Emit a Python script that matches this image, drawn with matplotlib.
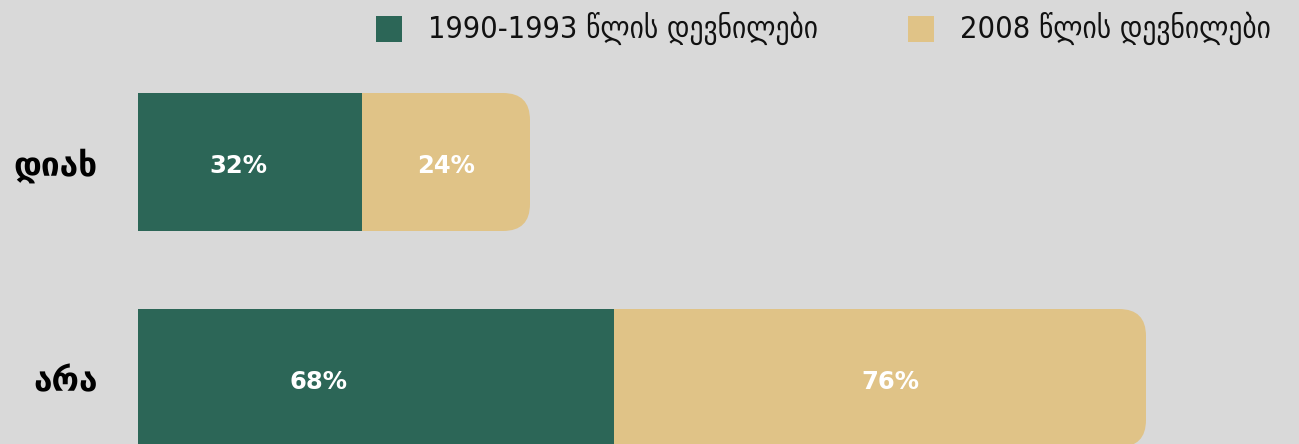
import matplotlib
matplotlib.use("Agg")
import matplotlib.pyplot as plt
from matplotlib.patches import FancyBboxPatch, Rectangle

categories = ["დიახ", "არა"]
series_names = ["1990-1993 წლის დევნილები", "2008 წლის დევნილები"]
values_1990 = [32, 68]
values_2008 = [24, 76]
value_labels_1990 = ["32%", "68%"]
value_labels_2008 = ["24%", "76%"]

GREEN = "#2c6657"
TAN = "#e0c387"
BG = "#d9d9d9"

W, H, DPI = 1299, 444, 100
fig = plt.figure(figsize=(W / DPI, H / DPI), dpi=DPI, facecolor=BG)
plt.rcParams['font.family'] = ['DejaVu Sans']

x0_px = 138
px_per_unit = 7.0
ax = fig.add_axes([x0_px / W, 0, (W - x0_px) / W, 1])
ax.set_facecolor(BG)
xmax = (W - x0_px) / px_per_unit
ax.set_xlim(0, xmax)
row_px = 216.0
top_center_px = 162.0
ymin_data = -top_center_px / row_px
ymax_data = (H - top_center_px) / row_px
ax.set_ylim(ymax_data, ymin_data)
y_px_per_unit = row_px

bar_h = 138 / row_px
radius_px = 27
r_x = radius_px / px_per_unit
aspect = px_per_unit / y_px_per_unit

ypos = list(range(len(categories)))
ax.barh(ypos, values_1990, height=bar_h, color=GREEN, edgecolor="none")
for y, g, t in zip(ypos, values_1990, values_2008):
    ax.barh(y, t - r_x, left=g, height=bar_h, color=TAN, edgecolor="none")
    box = FancyBboxPatch((g, y - bar_h / 2), t, bar_h,
                         boxstyle=f"round,pad=0,rounding_size={r_x}",
                         mutation_aspect=aspect, facecolor=TAN,
                         edgecolor="none")
    ax.add_patch(box)

# label placement along each segment (fraction of segment length), as in the original design
frac_1990 = [0.45, 0.38]
frac_2008 = [0.5, 0.52]
dy = 0.02
for y, g, t, lg, lt, fg, ft in zip(ypos, values_1990, values_2008,
                                   value_labels_1990, value_labels_2008,
                                   frac_1990, frac_2008):
    ax.text(g * fg, y + dy, lg, ha="center", va="center", color="white",
            fontsize=17.5, fontweight="bold")
    ax.text(g + t * ft, y + dy, lt, ha="center", va="center", color="white",
            fontsize=17.5, fontweight="bold")

ax.set_yticks(ypos)
ax.set_yticklabels(categories, fontsize=24, fontweight="bold")
ax.tick_params(axis="y", length=0, pad=29)
ax.set_xticks([])
for s in ax.spines.values():
    s.set_visible(False)

# legend
legend_items = [(376, GREEN, 428, series_names[0]),
                (908, TAN, 960, series_names[1])]
for sq_x, col, tx, label in legend_items:
    fig.patches.append(Rectangle((sq_x / W, 1 - 42 / H), 26 / W, 26 / H,
                                 transform=fig.transFigure, facecolor=col,
                                 edgecolor="none"))
    fig.text(tx / W, 1 - 28 / H, label, ha="left", va="center",
             fontsize=22, fontstretch="condensed", color="#111111")

fig.savefig("out.png", dpi=DPI, facecolor=BG)
